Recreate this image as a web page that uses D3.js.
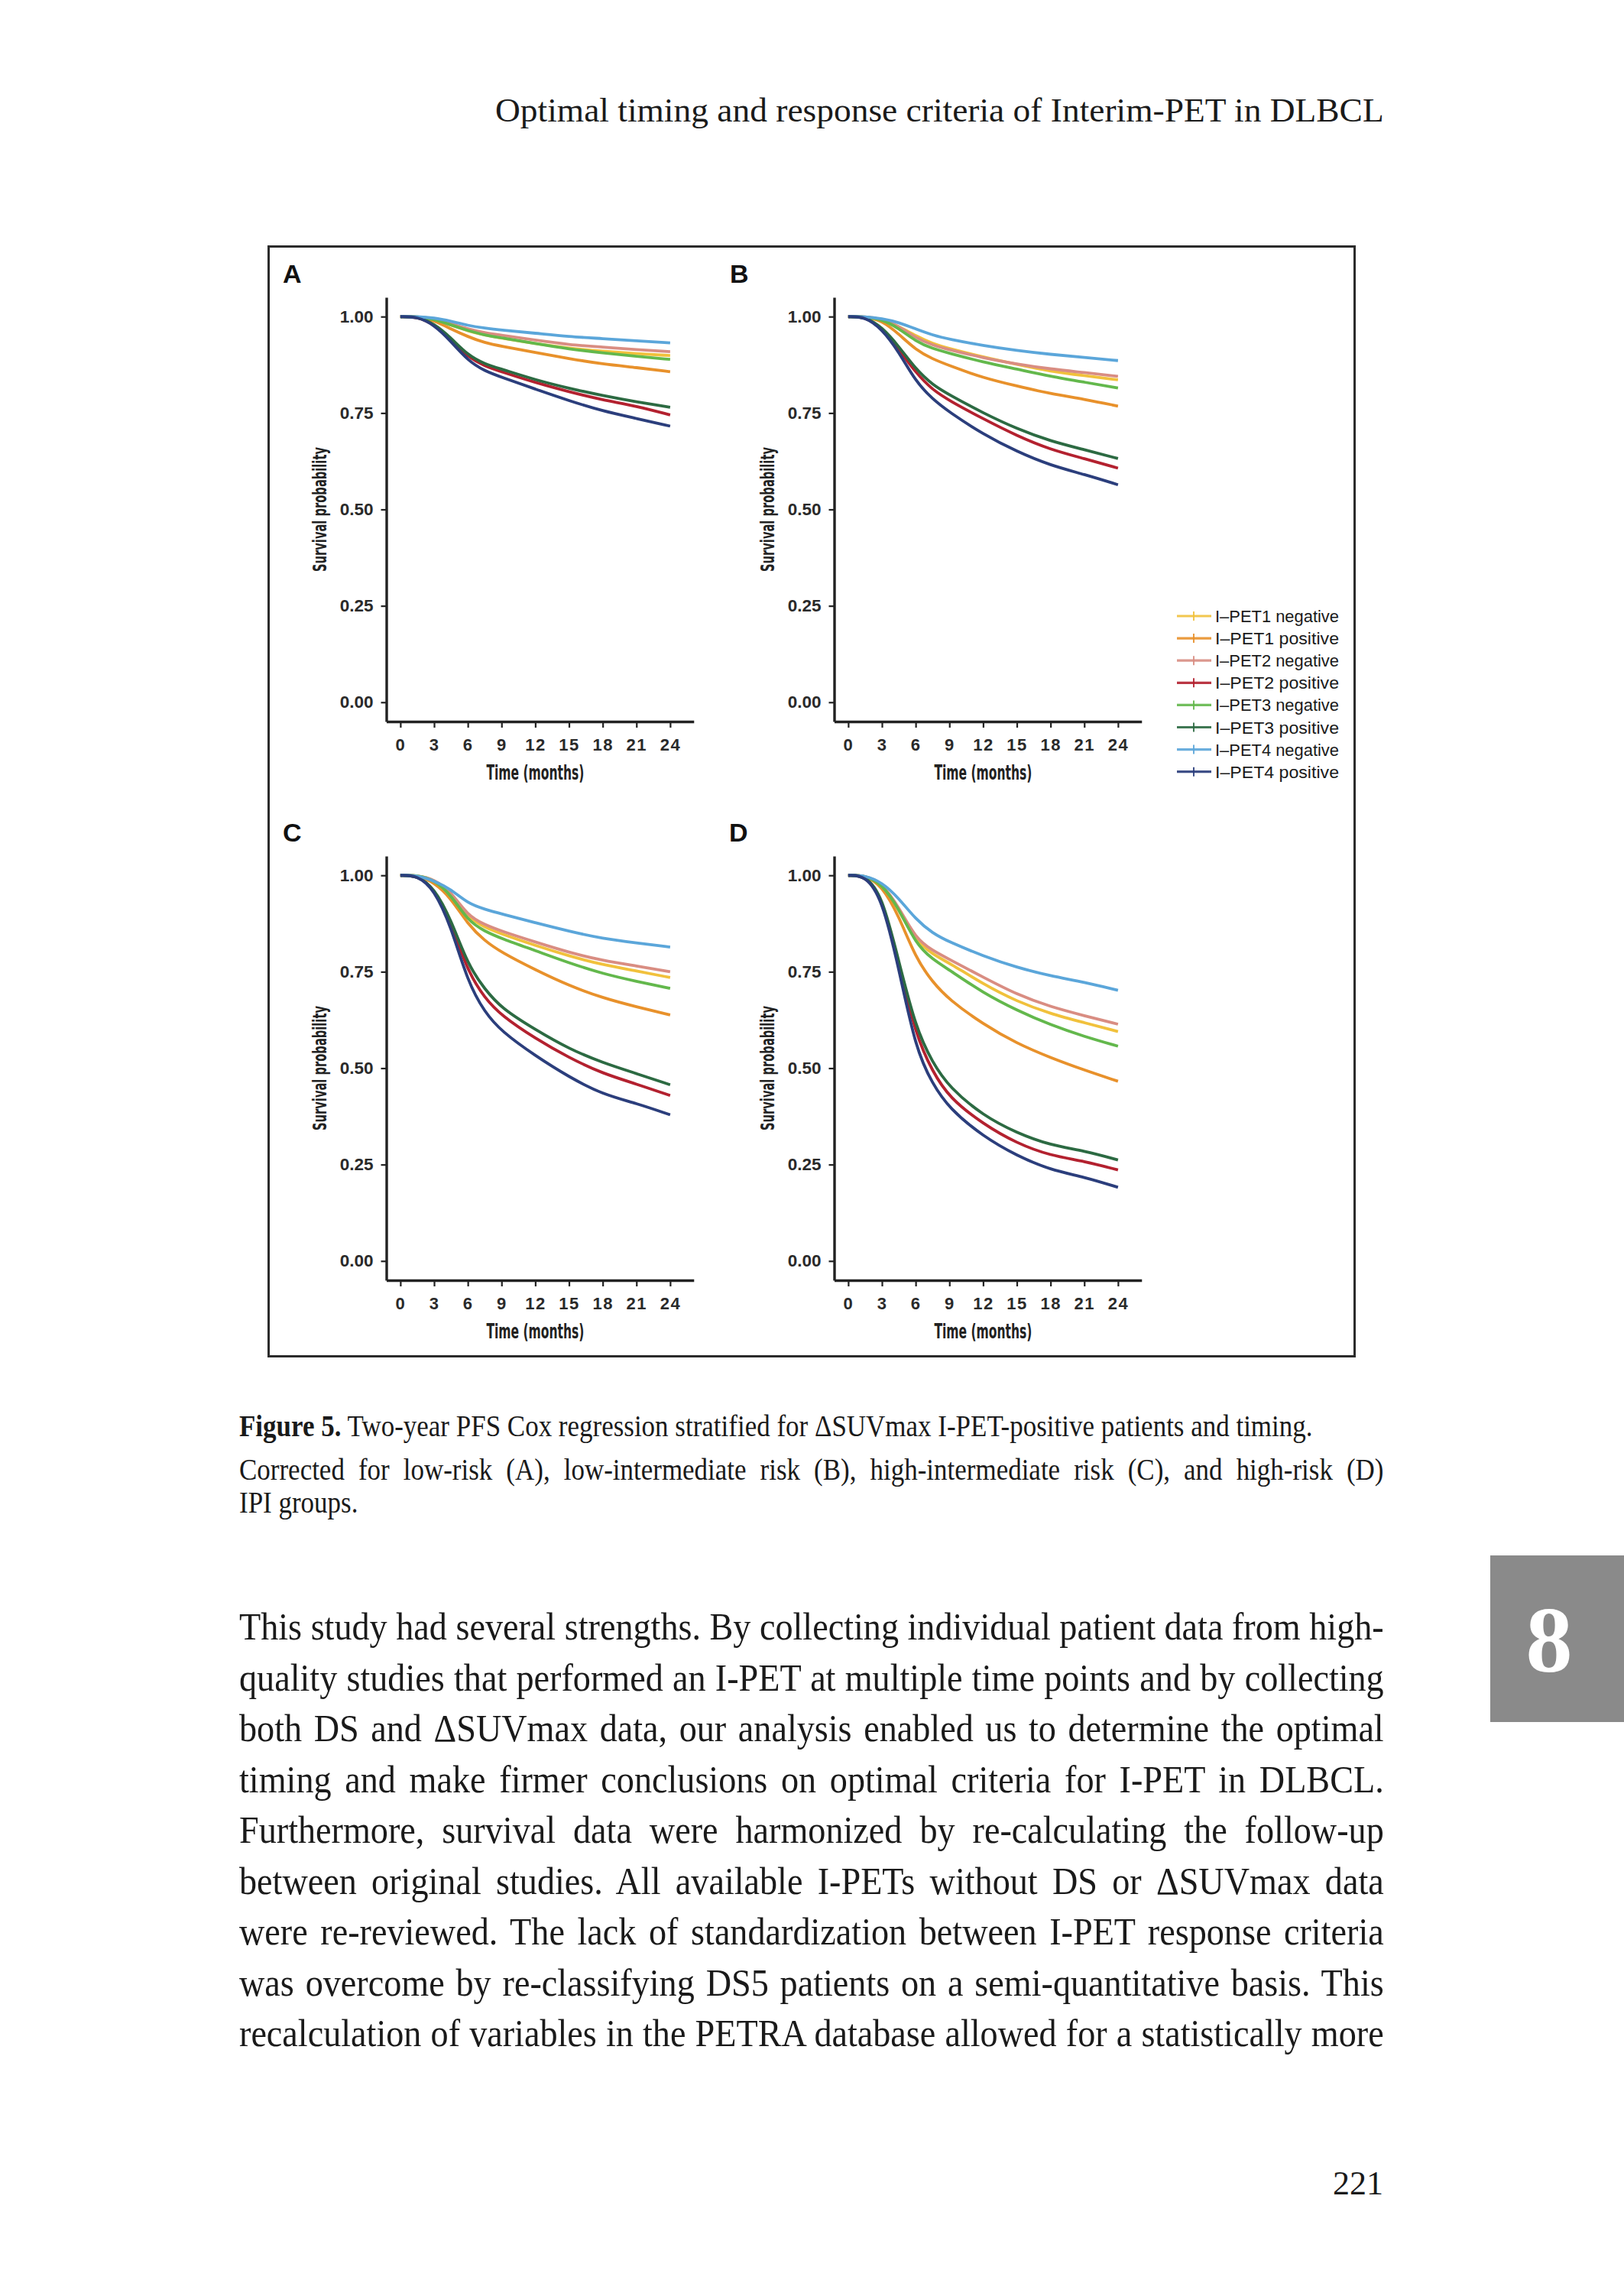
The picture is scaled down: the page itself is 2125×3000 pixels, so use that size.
<!DOCTYPE html>
<html><head><meta charset="utf-8">
<script src="https://cdn.jsdelivr.net/npm/d3@7"></script>
<style>body{margin:0;background:#fff;} svg{display:block;}</style>
</head><body>
<svg id="page" width="2125" height="3000"></svg>
<script>
// ---------------- DATA ----------------
const months = [0, 1.5, 3, 4.5, 6, 7.5, 9, 12, 15, 18, 21, 24];
const xTicks = [0, 3, 6, 9, 12, 15, 18, 21, 24];
const yTicks = [0, 0.25, 0.5, 0.75, 1];
const yTickLabels = ["0.00", "0.25", "0.50", "0.75", "1.00"];
const seriesNames = ["I\u2013PET1 negative", "I\u2013PET1 positive", "I\u2013PET2 negative", "I\u2013PET2 positive",
                     "I\u2013PET3 negative", "I\u2013PET3 positive", "I\u2013PET4 negative", "I\u2013PET4 positive"];
const panelLetters = ["A", "B", "C", "D"];

// survival probability per series (order = seriesNames), read at `months`
const panelA = [
  [1, 1, 0.993, 0.978, 0.963, 0.952, 0.944, 0.930, 0.918, 0.910, 0.904, 0.899],
  [1, 1, 0.990, 0.968, 0.948, 0.932, 0.923, 0.907, 0.891, 0.877, 0.868, 0.857],
  [1, 1, 0.995, 0.982, 0.968, 0.958, 0.952, 0.939, 0.927, 0.921, 0.914, 0.909],
  [1, 1, 0.980, 0.940, 0.895, 0.872, 0.857, 0.829, 0.805, 0.784, 0.768, 0.745],
  [1, 1, 0.994, 0.978, 0.964, 0.952, 0.945, 0.930, 0.916, 0.906, 0.897, 0.889],
  [1, 1, 0.982, 0.945, 0.900, 0.877, 0.864, 0.836, 0.814, 0.795, 0.779, 0.765],
  [1, 1, 0.997, 0.988, 0.977, 0.970, 0.965, 0.957, 0.948, 0.943, 0.937, 0.932],
  [1, 1, 0.979, 0.936, 0.886, 0.859, 0.843, 0.812, 0.782, 0.755, 0.736, 0.716]
];
const panelB = [
  [1, 1, 0.993, 0.975, 0.950, 0.930, 0.917, 0.895, 0.876, 0.858, 0.847, 0.836],
  [1, 1, 0.990, 0.955, 0.914, 0.890, 0.873, 0.841, 0.820, 0.800, 0.786, 0.768],
  [1, 1, 0.994, 0.975, 0.945, 0.926, 0.914, 0.893, 0.877, 0.864, 0.855, 0.845],
  [1, 1, 0.970, 0.915, 0.855, 0.810, 0.782, 0.735, 0.691, 0.655, 0.632, 0.607],
  [1, 1, 0.993, 0.970, 0.936, 0.917, 0.905, 0.882, 0.864, 0.845, 0.830, 0.815],
  [1, 1, 0.973, 0.923, 0.864, 0.823, 0.797, 0.750, 0.709, 0.677, 0.655, 0.632],
  [1, 1, 0.995, 0.985, 0.968, 0.952, 0.941, 0.925, 0.912, 0.902, 0.894, 0.886],
  [1, 1, 0.968, 0.909, 0.832, 0.786, 0.752, 0.695, 0.650, 0.614, 0.591, 0.564]
];
const panelC = [
  [1, 1, 0.990, 0.955, 0.891, 0.865, 0.848, 0.818, 0.791, 0.768, 0.752, 0.735],
  [1, 1, 0.982, 0.941, 0.873, 0.830, 0.800, 0.755, 0.714, 0.682, 0.659, 0.638],
  [1, 1, 0.990, 0.958, 0.895, 0.872, 0.855, 0.827, 0.800, 0.779, 0.765, 0.750],
  [1, 1, 0.966, 0.877, 0.750, 0.682, 0.636, 0.577, 0.527, 0.486, 0.459, 0.429],
  [1, 1, 0.988, 0.950, 0.882, 0.855, 0.836, 0.805, 0.773, 0.745, 0.725, 0.707],
  [1, 1, 0.968, 0.886, 0.768, 0.705, 0.655, 0.600, 0.550, 0.514, 0.486, 0.457],
  [1, 1, 0.986, 0.964, 0.927, 0.912, 0.900, 0.877, 0.855, 0.836, 0.825, 0.814],
  [1, 1, 0.964, 0.868, 0.723, 0.645, 0.595, 0.532, 0.477, 0.432, 0.409, 0.379]
];
const panelD = [
  [1, 1, 0.978, 0.910, 0.832, 0.795, 0.773, 0.718, 0.673, 0.641, 0.618, 0.595],
  [1, 1, 0.973, 0.895, 0.786, 0.723, 0.677, 0.614, 0.564, 0.527, 0.495, 0.466],
  [1, 1, 0.980, 0.918, 0.836, 0.805, 0.782, 0.736, 0.691, 0.659, 0.636, 0.614],
  [1, 1, 0.945, 0.770, 0.586, 0.491, 0.423, 0.355, 0.305, 0.273, 0.259, 0.236],
  [1, 1, 0.978, 0.914, 0.823, 0.782, 0.755, 0.695, 0.650, 0.612, 0.582, 0.557],
  [1, 1, 0.950, 0.777, 0.605, 0.514, 0.450, 0.377, 0.332, 0.300, 0.286, 0.262],
  [1, 1, 0.982, 0.941, 0.886, 0.850, 0.827, 0.791, 0.761, 0.739, 0.723, 0.702],
  [1, 1, 0.941, 0.759, 0.550, 0.459, 0.395, 0.323, 0.273, 0.236, 0.218, 0.191]
];

const headerText = "Optimal timing and response criteria of Interim-PET in DLBCL";
const captionBold = "Figure 5.";
const captionLines = [
  " Two-year PFS Cox regression stratified for \u0394SUVmax I-PET-positive patients and timing.",
  "Corrected for low-risk (A), low-intermediate risk (B), high-intermediate risk (C), and high-risk (D)",
  "IPI groups."
];
const bodyLines = [
  "This study had several strengths. By collecting individual patient data from high-",
  "quality studies that performed an I-PET at multiple time points and by collecting",
  "both DS and \u0394SUVmax data, our analysis enabled us to determine the optimal",
  "timing and make firmer conclusions on optimal criteria for I-PET in DLBCL.",
  "Furthermore, survival data were harmonized by re-calculating the follow-up",
  "between original studies. All available I-PETs without DS or \u0394SUVmax data",
  "were re-reviewed. The lack of standardization between I-PET response criteria",
  "was overcome by re-classifying DS5 patients on a semi-quantitative basis. This",
  "recalculation of variables in the PETRA database allowed for a statistically more"
];
const pageNumber = "221";
const chapterTab = "8";

// ---------------- STYLE / LAYOUT ----------------
const seriesColors = ["#f1c13c", "#e8912b", "#d98d82", "#b3212f", "#63b84c", "#2c6a42", "#5ba6da", "#2b3e7c"];
const sansFont = "'Liberation Sans', Arial, sans-serif";
const narrowFont = "'Liberation Sans Narrow', 'DejaVu Sans Condensed', 'Liberation Sans', sans-serif";
const serifFont = "'Liberation Serif', 'Times New Roman', serif";
const inkColor = "#222";

const svg = d3.select("#page");

// figure frame
svg.append("rect").attr("x", 351.5).attr("y", 322.5).attr("width", 1421).attr("height", 1452)
  .attr("fill", "none").attr("stroke", "#2b2b2b").attr("stroke-width", 3);

const pxPerMonth = 353 / 24;
const panels = [
  {data: panelA, ax: 505.5, axY: 944, lx: 370, ly: 370},
  {data: panelB, ax: 1091.5, axY: 944, lx: 955, ly: 370},
  {data: panelC, ax: 505.5, axY: 1675, lx: 370, ly: 1101},
  {data: panelD, ax: 1091.5, axY: 1675, lx: 954, ly: 1101}
];

panels.forEach((p, pi) => {
  const x = d3.scaleLinear().domain([-1.25, 26.1]).range([p.ax, p.ax + 27.35 * pxPerMonth]);
  const y = d3.scaleLinear().domain([-0.05, 1.05]).range([p.axY, p.axY - 555]);
  const g = svg.append("g");

  // panel letter
  g.append("text").attr("x", p.lx).attr("y", p.ly).text(panelLetters[pi])
    .attr("font-family", sansFont).attr("font-weight", "bold").attr("font-size", 34).attr("fill", "#111");

  // curves
  const line = d3.line().x((d, i) => x(months[i])).y(d => y(d)).curve(d3.curveBasis);
  p.data.forEach((vals, si) => {
    g.append("path").attr("d", line(vals)).attr("fill", "none")
      .attr("stroke", seriesColors[si]).attr("stroke-width", 3.8).attr("stroke-linejoin", "round");
  });

  // y axis
  const yAxis = d3.axisLeft(y).tickValues(yTicks).tickFormat((d, i) => yTickLabels[i])
    .tickSize(7).tickSizeOuter(0).tickPadding(10);
  const gy = g.append("g").attr("transform", `translate(${p.ax},0)`).call(yAxis);
  // x axis
  const xAxis = d3.axisBottom(x).tickValues(xTicks).tickSize(8).tickSizeOuter(0).tickPadding(14);
  const gx = g.append("g").attr("transform", `translate(0,${p.axY})`).call(xAxis);

  [gy, gx].forEach(ga => {
    ga.select(".domain").attr("stroke", inkColor).attr("stroke-width", 3.4);
    ga.selectAll(".tick line").attr("stroke", inkColor).attr("stroke-width", 2.2);
    ga.selectAll(".tick text").attr("font-family", sansFont).attr("font-weight", "bold")
      .attr("font-size", 22.5).attr("fill", "#2a2a2a");
  });
  gx.selectAll(".tick text").attr("font-size", 22).attr("letter-spacing", 1.5);

  // axis titles
  g.append("text").attr("x", x(12)).attr("y", p.axY + 76).attr("text-anchor", "middle")
    .attr("font-family", narrowFont).attr("font-weight", "bold").attr("font-size", 26).attr("fill", "#222")
    .attr("textLength", 128).attr("lengthAdjust", "spacingAndGlyphs").text("Time (months)");
  g.append("text").attr("transform", `translate(${p.ax - 79},${y(0.5)}) rotate(-90)`).attr("text-anchor", "middle")
    .attr("font-family", narrowFont).attr("font-weight", "bold").attr("font-size", 25).attr("fill", "#222")
    .attr("textLength", 163).attr("lengthAdjust", "spacingAndGlyphs").text("Survival probability");
});

// legend
const legend = svg.append("g");
seriesNames.forEach((name, i) => {
  const cy = 806 + i * 29.1;
  legend.append("line").attr("x1", 1540).attr("x2", 1585).attr("y1", cy).attr("y2", cy)
    .attr("stroke", seriesColors[i]).attr("stroke-width", 3.2).attr("opacity", 0.9);
  legend.append("line").attr("x1", 1562).attr("x2", 1562).attr("y1", cy - 6).attr("y2", cy + 6)
    .attr("stroke", seriesColors[i]).attr("stroke-width", 2).attr("opacity", 0.9);
  legend.append("text").attr("x", 1590).attr("y", cy + 8).text(name)
    .attr("font-family", sansFont).attr("font-size", 22).attr("fill", "#1a1a1a")
    .attr("textLength", 162).attr("lengthAdjust", "spacingAndGlyphs");
});

// ---------------- PAGE TEXT ----------------
function fitLine(t, targetW) {
  const w = t.node().getComputedTextLength();
  return targetW / w;
}

// header
const hdr = svg.append("text").attr("font-family", serifFont).attr("font-size", 44).attr("fill", "#1a1a1a")
  .attr("x", 0).attr("y", 0).text(headerText);
{
  const s = fitLine(hdr, 1163);
  hdr.attr("transform", `translate(648,159) scale(${s},1)`);
}

// caption
const capG = svg.append("g");
const cap1 = capG.append("text").attr("font-family", serifFont).attr("font-size", 40).attr("fill", "#1a1a1a");
cap1.append("tspan").attr("font-weight", "bold").text(captionBold);
cap1.append("tspan").text(captionLines[0]);
const capScale = fitLine(cap1, 1405);
cap1.attr("transform", `translate(313,1879) scale(${capScale},1)`);
const cap2 = capG.append("text").attr("font-family", serifFont).attr("font-size", 40).attr("fill", "#1a1a1a").text(captionLines[1]);
{
  const w = cap2.node().getComputedTextLength();
  const n = captionLines[1].split(" ").length - 1;
  cap2.attr("word-spacing", (1498 / capScale - w) / n);
  cap2.attr("transform", `translate(313,1936) scale(${capScale},1)`);
}
capG.append("text").attr("font-family", serifFont).attr("font-size", 40).attr("fill", "#1a1a1a")
  .attr("transform", `translate(313,1979) scale(${capScale},1)`).text(captionLines[2]);

// body (justified)
const bodyG = svg.append("g");
const bodyTexts = bodyLines.map(s => bodyG.append("text").attr("font-family", serifFont)
  .attr("font-size", 51).attr("fill", "#1a1a1a").text(s));
const widths = bodyTexts.map(t => t.node().getComputedTextLength());
const bodyScale = 1498 / d3.max(widths);
bodyTexts.forEach((t, i) => {
  const n = bodyLines[i].split(" ").length - 1;
  t.attr("word-spacing", (1498 / bodyScale - widths[i]) / n);
  t.attr("transform", `translate(313,${2145 + i * 66.5}) scale(${bodyScale},1)`);
});

// page number
svg.append("text").attr("x", 1810).attr("y", 2871).attr("text-anchor", "end")
  .attr("font-family", serifFont).attr("font-size", 44).attr("fill", "#1a1a1a").text(pageNumber);

// chapter tab
svg.append("rect").attr("x", 1950).attr("y", 2035).attr("width", 175).attr("height", 218).attr("fill", "#8a8a8a");
svg.append("text").attr("x", 2027).attr("y", 2187).attr("text-anchor", "middle")
  .attr("font-family", serifFont).attr("font-weight", "bold").attr("font-size", 122).attr("fill", "#fff").text(chapterTab);
</script>
</body></html>
